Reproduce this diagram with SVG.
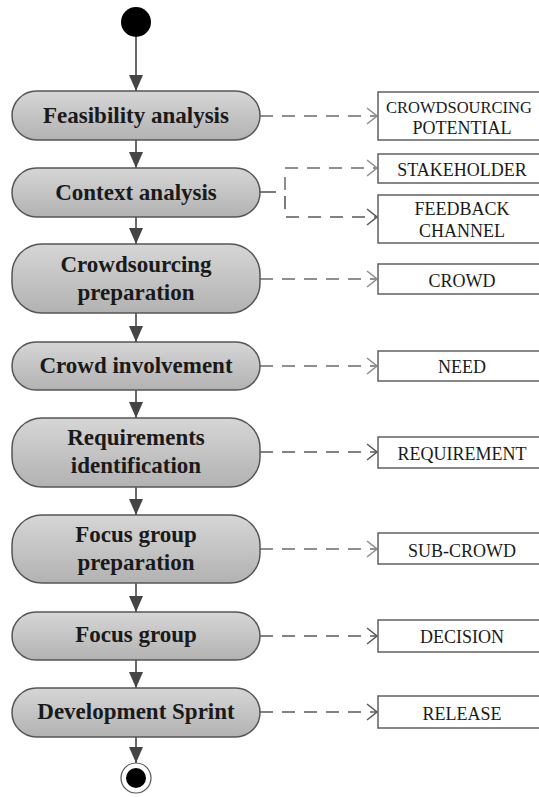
<svg xmlns="http://www.w3.org/2000/svg" width="539" height="797" viewBox="0 0 539 797">
  <defs>
    <linearGradient id="actFill" x1="0" y1="0" x2="0" y2="1">
      <stop offset="0" stop-color="#d6d6d6"/>
      <stop offset="1" stop-color="#b2b2b2"/>
    </linearGradient>
    <marker id="flowHead" viewBox="0 0 16 14" refX="16" refY="7" markerWidth="16" markerHeight="14" markerUnits="userSpaceOnUse" orient="auto">
      <path d="M0,0 L16,7 L0,14 Z" fill="#454545"/>
    </marker>
    <marker id="openHeadLight" viewBox="0 0 12 18" refX="11" refY="9" markerWidth="12" markerHeight="18" markerUnits="userSpaceOnUse" orient="auto">
      <path d="M1,1 L11,9 L1,17" fill="none" stroke="#8f8f8f" stroke-width="1.6"/>
    </marker>
    <marker id="openHeadDark" viewBox="0 0 12 18" refX="11" refY="9" markerWidth="12" markerHeight="18" markerUnits="userSpaceOnUse" orient="auto">
      <path d="M1,1 L11,9 L1,17" fill="none" stroke="#5a5a5a" stroke-width="1.6"/>
    </marker>
  </defs>
  <style>
    .act { fill: url(#actFill); stroke: #555; stroke-width: 1.5; }
    .actText { font-family: "Liberation Serif", "Times New Roman", serif; font-weight: bold; font-size: 23px; fill: #1a1a1a; text-anchor: middle; }
    .obj { fill: #fff; stroke: #6a6a6a; stroke-width: 1.6; }
    .objText { font-family: "Liberation Serif", "Times New Roman", serif; font-size: 18px; fill: #1a1a1a; text-anchor: middle; }
    .flow { fill: none; stroke: #454545; stroke-width: 1.6; marker-end: url(#flowHead); }
    .objFlowLight { fill: none; stroke: #8f8f8f; stroke-width: 2; stroke-dasharray: 13 9; }
    .objFlowDark { fill: none; stroke: #5a5a5a; stroke-width: 1.6; stroke-dasharray: 13 9; }
    .arrLight { marker-end: url(#openHeadLight); }
    .arrDark { marker-end: url(#openHeadDark); }
  </style>

  <!-- control flow -->
  <g id="connectors">
    <line class="flow" x1="136" y1="37" x2="136" y2="91"/>
    <line class="flow" x1="136" y1="140" x2="136" y2="168"/>
    <line class="flow" x1="136" y1="217" x2="136" y2="244"/>
    <line class="flow" x1="136" y1="313" x2="136" y2="342"/>
    <line class="flow" x1="136" y1="390" x2="136" y2="418"/>
    <line class="flow" x1="136" y1="487" x2="136" y2="515"/>
    <line class="flow" x1="136" y1="583" x2="136" y2="612"/>
    <line class="flow" x1="136" y1="660" x2="136" y2="688"/>
    <line class="flow" x1="136" y1="737" x2="136" y2="763"/>

    <!-- object flows -->
    <line class="objFlowLight arrLight" x1="260" y1="116" x2="377" y2="116"/>
    <line x1="260" y1="192" x2="276" y2="192" stroke="#5a5a5a" stroke-width="1.6"/>
    <path class="objFlowLight arrLight" d="M285,190 L285,168 L377,168" stroke-dasharray="10 8"/>
    <path class="objFlowDark arrDark" d="M285,196 L285,217 L377,217" stroke-dasharray="10 8"/>
    <line class="objFlowLight arrLight" x1="260" y1="279" x2="377" y2="279"/>
    <line class="objFlowLight arrLight" x1="260" y1="366" x2="377" y2="366"/>
    <line class="objFlowDark arrDark" x1="260" y1="452" x2="377" y2="452"/>
    <line class="objFlowLight arrLight" x1="260" y1="549" x2="377" y2="549"/>
    <line class="objFlowDark arrDark" x1="260" y1="636" x2="377" y2="636"/>
    <line class="objFlowDark arrDark" x1="260" y1="712" x2="377" y2="712"/>
  </g>

  <g id="start">
    <circle cx="136" cy="22" r="15" fill="#000"/>
  </g>

  <g id="feasibility">
    <rect class="act" x="12" y="91" width="248" height="49" rx="24.5"/>
    <text class="actText" x="136" y="123">Feasibility analysis</text>
  </g>
  <g id="context">
    <rect class="act" x="12" y="168" width="248" height="49" rx="24.5"/>
    <text class="actText" x="136" y="200">Context analysis</text>
  </g>
  <g id="crowdsourcing-preparation">
    <rect class="act" x="12" y="244" width="248" height="69" rx="30"/>
    <text class="actText" x="136" y="272">Crowdsourcing</text>
    <text class="actText" x="136" y="300">preparation</text>
  </g>
  <g id="crowd-involvement">
    <rect class="act" x="12" y="342" width="248" height="48" rx="24"/>
    <text class="actText" x="136" y="373">Crowd involvement</text>
  </g>
  <g id="requirements-identification">
    <rect class="act" x="12" y="418" width="248" height="69" rx="30"/>
    <text class="actText" x="136" y="445">Requirements</text>
    <text class="actText" x="136" y="473">identification</text>
  </g>
  <g id="focus-group-preparation">
    <rect class="act" x="12" y="515" width="248" height="68" rx="30"/>
    <text class="actText" x="136" y="542">Focus group</text>
    <text class="actText" x="136" y="570">preparation</text>
  </g>
  <g id="focus-group">
    <rect class="act" x="12" y="612" width="248" height="48" rx="24"/>
    <text class="actText" x="136" y="642">Focus group</text>
  </g>
  <g id="development-sprint">
    <rect class="act" x="12" y="688" width="248" height="49" rx="24.5"/>
    <text class="actText" x="136" y="719">Development Sprint</text>
  </g>

  <g id="end">
    <circle cx="136" cy="778" r="15" fill="#fff" stroke="#555" stroke-width="1.2"/>
    <circle cx="136" cy="778" r="10" fill="#000"/>
  </g>

  <!-- objects -->
  <g id="obj-crowdsourcing-potential">
    <rect class="obj" x="378" y="92" width="170" height="48"/>
    <text class="objText" x="459" y="113" style="font-size:16.5px">CROWDSOURCING</text>
    <text class="objText" x="462" y="134">POTENTIAL</text>
  </g>
  <g id="obj-stakeholder">
    <rect class="obj" x="378" y="154" width="170" height="29"/>
    <text class="objText" x="462" y="176">STAKEHOLDER</text>
  </g>
  <g id="obj-feedback-channel">
    <rect class="obj" x="378" y="195" width="170" height="48"/>
    <text class="objText" x="462" y="215">FEEDBACK</text>
    <text class="objText" x="462" y="237">CHANNEL</text>
  </g>
  <g id="obj-crowd">
    <rect class="obj" x="378" y="264" width="170" height="30"/>
    <text class="objText" x="462" y="287">CROWD</text>
  </g>
  <g id="obj-need">
    <rect class="obj" x="378" y="351" width="170" height="30"/>
    <text class="objText" x="462" y="373">NEED</text>
  </g>
  <g id="obj-requirement">
    <rect class="obj" x="378" y="437" width="170" height="31"/>
    <text class="objText" x="462" y="460">REQUIREMENT</text>
  </g>
  <g id="obj-sub-crowd">
    <rect class="obj" x="378" y="533" width="170" height="31"/>
    <text class="objText" x="462" y="557">SUB-CROWD</text>
  </g>
  <g id="obj-decision">
    <rect class="obj" x="378" y="620" width="170" height="32"/>
    <text class="objText" x="462" y="643">DECISION</text>
  </g>
  <g id="obj-release">
    <rect class="obj" x="378" y="696" width="170" height="32"/>
    <text class="objText" x="462" y="720">RELEASE</text>
  </g>
</svg>
